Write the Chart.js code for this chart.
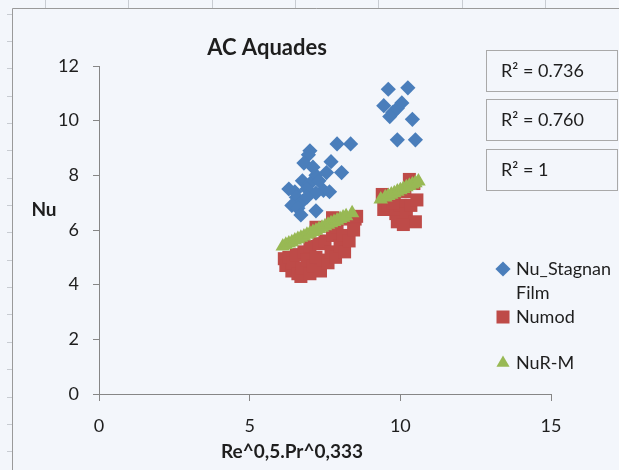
<!DOCTYPE html>
<html><head><meta charset="utf-8">
<script src="https://cdn.jsdelivr.net/npm/chart.js@4.4.1/dist/chart.umd.min.js"></script>
<style>html,body{margin:0;padding:0;background:#f3f6fb;overflow:hidden}canvas{display:block}</style>
</head><body>
<canvas id="c" width="619" height="470"></canvas>
<script>
// ---- data ----
const chartTitle = 'AC Aquades';
const xTitle = 'Re^0,5.Pr^0,333';
const yTitle = 'Nu';
const seriesNames = ['Nu_Stagnan Film', 'Numod', 'NuR-M'];
const r2Labels = ['R² = 0.736', 'R² = 0.760', 'R² = 1'];
const xTicks = [0, 5, 10, 15];
const yTicks = [0, 2, 4, 6, 8, 10, 12];

const nuStagnanX = [7.9, 8.35, 7.0, 6.95, 6.8, 7.7, 8.05, 7.55, 7.2, 7.1, 6.75, 7.0, 6.3, 6.5, 7.45, 7.65, 6.9, 7.2, 6.55, 6.75, 6.4, 6.6, 7.2, 6.7, 7.3, 6.9,
  9.6, 10.25, 9.45, 9.75, 9.9, 10.05, 9.65, 10.4, 9.9, 10.5];
const nuStagnanY = [9.15, 9.15, 8.9, 8.75, 8.45, 8.5, 8.1, 8.1, 8.0, 8.3, 7.8, 7.7, 7.5, 7.4, 7.45, 7.4, 7.5, 7.35, 7.2, 7.05, 6.9, 6.8, 6.7, 6.55, 7.8, 7.2,
  11.15, 11.2, 10.55, 10.3, 10.45, 10.65, 10.15, 10.05, 9.3, 9.3];

const numodX = [6.15, 6.2, 6.3, 6.4, 6.45, 6.55, 6.6, 6.7, 6.75, 6.8, 6.9, 7.0, 7.0, 7.1, 7.2, 7.3, 7.35, 7.45, 7.5, 7.6, 7.7, 7.75, 7.85, 7.9, 8.0, 8.1, 8.15, 8.3, 8.3, 8.5, 8.45,
  7.2, 7.75, 8.55,
  9.4, 9.45, 9.6, 9.8, 9.85, 9.9, 10.0, 10.15, 10.2, 10.3, 10.35, 10.5, 10.55, 10.45, 10.1, 9.75];
const numodY = [4.95, 4.7, 5.0, 4.5, 4.8, 5.1, 4.4, 4.3, 4.6, 5.2, 4.9, 5.4, 4.4, 4.7, 5.0, 5.5, 4.5, 4.9, 5.6, 4.8, 5.2, 5.8, 5.0, 6.1, 5.4, 5.8, 5.2, 6.4, 5.6, 6.4, 6.0,
  6.1, 6.45, 6.5,
  7.3, 6.75, 6.9, 7.2, 6.6, 6.3, 6.9, 7.4, 6.6, 7.85, 6.9, 6.3, 7.1, 7.7, 6.2, 7.0];

const nuRMX = [6.1, 6.2, 6.3, 6.4, 6.5, 6.6, 6.7, 6.8, 6.9, 7.0, 7.1, 7.2, 7.3, 7.4, 7.5, 7.6, 7.7, 7.8, 7.9, 8.0, 8.1, 8.2, 8.4,
  9.35, 9.5, 9.6, 9.7, 9.8, 9.9, 10.0, 10.1, 10.2, 10.3, 10.4, 10.5, 10.6];
const nuRMY = [5.40, 5.46, 5.51, 5.56, 5.62, 5.67, 5.72, 5.77, 5.83, 5.88, 5.93, 5.98, 6.04, 6.09, 6.14, 6.20, 6.25, 6.30, 6.35, 6.41, 6.46, 6.51, 6.62,
  7.12, 7.20, 7.25, 7.30, 7.35, 7.41, 7.46, 7.51, 7.57, 7.62, 7.67, 7.72, 7.78];

// ---- styles ----
const FONT = 'Lato, "Open Sans", sans-serif';
const TEXT = '#1e1e1e';
const AXIS = '#868686';
const colors = ['#4a7ebb', '#be4b48', '#98b954'];
const styles = ['rectRot', 'rect', 'triangle'];
const radii = [7.6, 9.2, 8.4];
const drawOrder = [0, 2, 1];

function pts(xs, ys) { return xs.map((x, i) => ({ x: x, y: ys[i] })); }
const seriesData = [pts(nuStagnanX, nuStagnanY), pts(numodX, numodY), pts(nuRMX, nuRMY)];

function drawMarker(ctx, style, r, x, y, color) {
  ctx.save();
  ctx.fillStyle = color;
  ctx.beginPath();
  if (style === 'rectRot') {
    ctx.moveTo(x, y - r); ctx.lineTo(x + r, y); ctx.lineTo(x, y + r); ctx.lineTo(x - r, y);
  } else if (style === 'rect') {
    const s = r * Math.SQRT1_2;
    ctx.rect(x - s, y - s, 2 * s, 2 * s);
  } else {
    const w = r * Math.sqrt(3) / 2;
    ctx.moveTo(x, y - r); ctx.lineTo(x + w, y + r / 2); ctx.lineTo(x - w, y + r / 2);
  }
  ctx.closePath();
  ctx.fill();
  ctx.restore();
}

const decor = {
  id: 'decor',
  beforeDraw(chart) {
    const ctx = chart.ctx;
    ctx.save();
    ctx.fillStyle = '#f3f6fb';
    ctx.fillRect(0, 0, chart.width, chart.height);
    ctx.strokeStyle = '#c8ccd2';
    ctx.lineWidth = 1;
    for (let y = 13.6; y < chart.height; y += 27.35) {
      ctx.beginPath(); ctx.moveTo(7, Math.round(y) + 0.5); ctx.lineTo(13, Math.round(y) + 0.5); ctx.stroke();
    }
    for (let x = 45; x < chart.width; x += 83.35) {
      ctx.beginPath(); ctx.moveTo(Math.round(x) + 0.5, 0); ctx.lineTo(Math.round(x) + 0.5, 8); ctx.stroke();
    }
    ctx.strokeStyle = '#9a9a9a';
    ctx.beginPath();
    ctx.moveTo(12.5, chart.height + 2); ctx.lineTo(12.5, 8.5); ctx.lineTo(chart.width + 2, 8.5);
    ctx.stroke();
    ctx.restore();
  },
  afterDraw(chart) {
    const ctx = chart.ctx;
    ctx.save();
    ctx.fillStyle = TEXT;
    ctx.textBaseline = 'middle';
    ctx.textAlign = 'center';
    ctx.font = 'bold 22px ' + FONT;
    ctx.fillText(chartTitle, 267, 48);
    ctx.font = 'bold 19px ' + FONT;
    ctx.fillText(xTitle, 292, 452);
    ctx.fillText(yTitle, 44, 210);
    ctx.strokeStyle = '#a9a9a9';
    ctx.lineWidth = 1;
    const boxTops = [50, 99, 149];
    ctx.textAlign = 'left';
    ctx.font = '18px ' + FONT;
    r2Labels.forEach((t, i) => {
      ctx.strokeRect(486.5, boxTops[i] + 0.5, 131, 41);
      ctx.fillText(t, 501, boxTops[i] + 21);
    });
    const legendY = [269, 317, 363];
    seriesNames.forEach((name, i) => {
      drawMarker(ctx, styles[i], i === 1 ? 9.2 : 7.6, 503, legendY[i], colors[i]);
      name.split(' ').forEach((line, j) => {
        ctx.fillText(line, 516, legendY[i] + j * 24);
      });
    });
    ctx.restore();
  }
};

new Chart(document.getElementById('c'), {
  type: 'scatter',
  data: {
    datasets: seriesNames.map((n, i) => ({
      label: n,
      data: seriesData[i],
      order: drawOrder[i],
      pointStyle: styles[i],
      pointRadius: radii[i],
      pointHoverRadius: radii[i],
      backgroundColor: colors[i],
      borderColor: colors[i],
      borderWidth: 0
    }))
  },
  options: {
    responsive: false,
    animation: false,
    devicePixelRatio: 1,
    layout: { padding: { left: 0, top: 66, right: 68, bottom: 0 } },
    plugins: { legend: { display: false }, title: { display: false }, tooltip: { enabled: false } },
    scales: {
      x: {
        type: 'linear', min: 0, max: 15,
        afterBuildTicks: s => { s.ticks = xTicks.map(v => ({ value: v })); },
        afterFit: s => { s.height = 76; },
        border: { color: AXIS, width: 1 },
        grid: { drawOnChartArea: false, color: AXIS, tickLength: 7 },
        ticks: { color: TEXT, font: { family: FONT, size: 18 }, padding: 14, maxRotation: 0 }
      },
      y: {
        type: 'linear', min: 0, max: 12,
        afterBuildTicks: s => { s.ticks = yTicks.map(v => ({ value: v })); },
        afterFit: s => { s.width = 99; },
        border: { color: AXIS, width: 1 },
        grid: { drawOnChartArea: false, color: AXIS, tickLength: 6 },
        ticks: { color: TEXT, font: { family: FONT, size: 18 }, padding: 14 }
      }
    }
  },
  plugins: [decor]
});
</script>
</body></html>
